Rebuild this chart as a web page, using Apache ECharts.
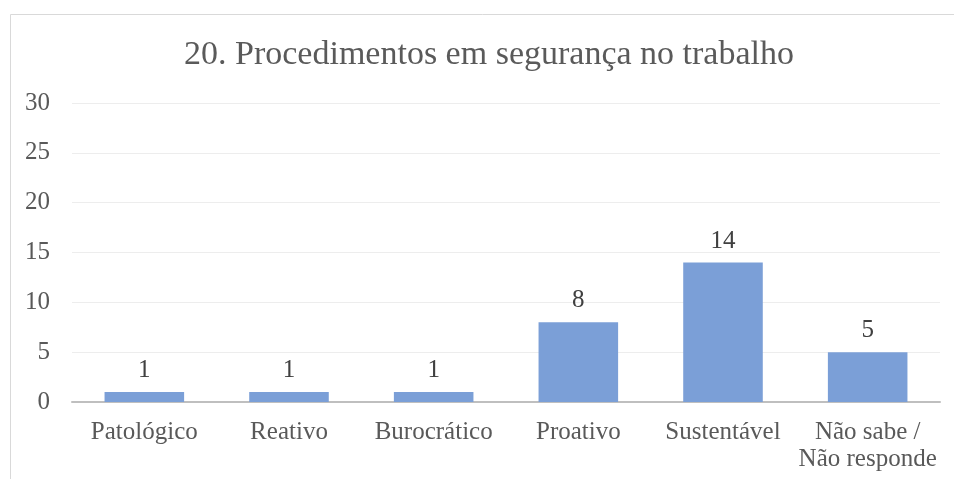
<!DOCTYPE html>
<html>
<head>
<meta charset="utf-8">
<script src="https://cdn.jsdelivr.net/npm/echarts@6/dist/echarts.min.js"></script>
<style>
  html, body { margin: 0; padding: 0; background: #fff; }
  #chart { width: 954px; height: 479px; }
</style>
</head>
<body>
<div id="chart"></div>
<script>
// categorias e valores
const categories = ["Patológico", "Reativo", "Burocrático", "Proativo", "Sustentável", "Não sabe /\nNão responde"];
const values = [1, 1, 1, 8, 14, 5];
const titleText = "20. Procedimentos em segurança no trabalho";

const font = "Liberation Serif, Times New Roman, serif";
const chart = echarts.init(document.getElementById("chart"));
chart.setOption({
  animation: false,
  title: {
    text: titleText,
    left: 484,
    textAlign: "center",
    top: 33,
    textStyle: { fontFamily: font, fontSize: 34, fontWeight: "normal", color: "#5a5a5a" }
  },
  graphic: [{
    type: "rect",
    shape: { x: 10.5, y: 14.5, width: 1000, height: 600 },
    style: { fill: "none", stroke: "#d9d9d9", lineWidth: 1 },
    silent: true
  }],
  grid: { left: 72, right: 14, top: 103, bottom: 77 },
  xAxis: {
    type: "category",
    data: categories,
    axisTick: { show: false },
    axisLine: { lineStyle: { color: "#bfbfbf", width: 2 } },
    axisLabel: { fontFamily: font, fontSize: 25, color: "#595959", margin: 17, lineHeight: 27, interval: 0 }
  },
  yAxis: {
    type: "value",
    min: 0, max: 30, interval: 5,
    axisLine: { show: false },
    axisTick: { show: false },
    splitLine: { lineStyle: { color: "#ededed", width: 1 } },
    axisLabel: { fontFamily: font, fontSize: 25, color: "#595959", margin: 22 }
  },
  series: [{
    type: "bar",
    data: values,
    barWidth: "55%",
    itemStyle: { color: "#7b9fd7" },
    label: { show: true, position: "top", distance: 9, fontFamily: font, fontSize: 25, color: "#404040" }
  }]
});
</script>
</body>
</html>
